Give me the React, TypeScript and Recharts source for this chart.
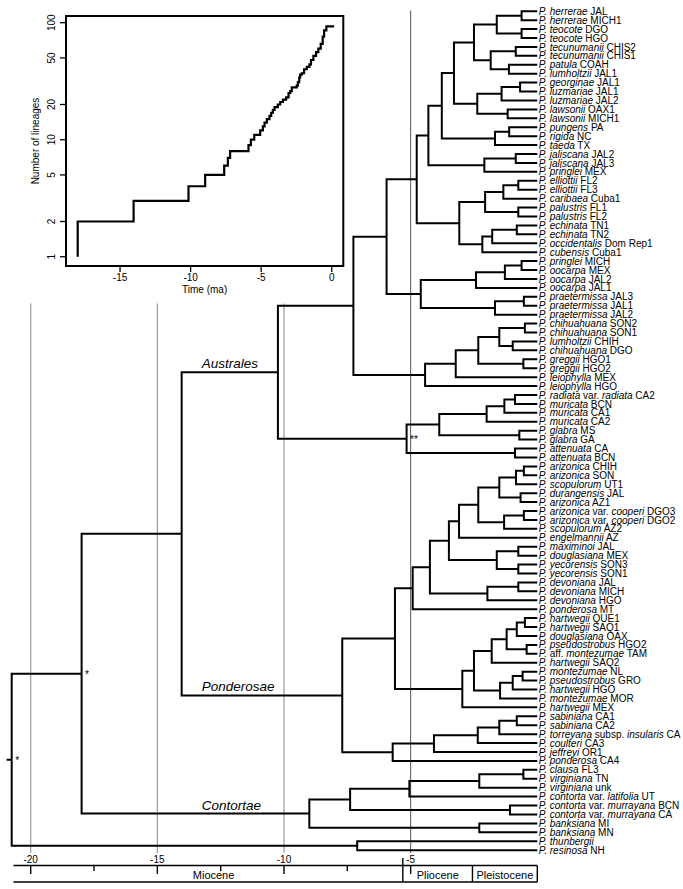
import React from 'react';
import { ComposedChart, Line, Scatter, XAxis, YAxis, ReferenceLine, ReferenceArea, Label } from 'recharts';

const FONT = '"Liberation Sans", Arial, Helvetica, sans-serif';

// ---------------- DATA ----------------
// Tip labels, top to bottom. Text between underscores is italic.
const tipLabels: string[] = [
  '_P. herrerae_ JAL', '_P. herrerae_ MICH1', '_P. teocote_ DGO', '_P. teocote_ HGO',
  '_P. tecunumanii_ CHIS2', '_P. tecunumanii_ CHIS1', '_P. patula_ COAH', '_P. lumholtzii_ JAL1',
  '_P. georginae_ JAL1', '_P. luzmariae_ JAL1', '_P. luzmariae_ JAL2', '_P. lawsonii_ OAX1',
  '_P. lawsonii_ MICH1', '_P. pungens_ PA', '_P. rigida_ NC', '_P. taeda_ TX',
  '_P. jaliscana_ JAL2', '_P. jaliscana_ JAL3', '_P. pringlei_ MEX', '_P. elliottii_ FL2',
  '_P. elliottii_ FL3', '_P. caribaea_ Cuba1', '_P. palustris_ FL1', '_P. palustris_ FL2',
  '_P. echinata_ TN1', '_P. echinata_ TN2', '_P. occidentalis_ Dom Rep1', '_P. cubensis_ Cuba1',
  '_P. pringlei_ MICH', '_P. oocarpa_ MEX', '_P. oocarpa_ JAL2', '_P. oocarpa_ JAL1',
  '_P. praetermissa_ JAL3', '_P. praetermissa_ JAL1', '_P. praetermissa_ JAL2', '_P. chihuahuana_ SON2',
  '_P. chihuahuana_ SON1', '_P. lumholtzii_ CHIH', '_P. chihuahuana_ DGO', '_P. greggii_ HGO1',
  '_P. greggii_ HGO2', '_P. leiophylla_ MEX', '_P. leiophylla_ HGO', '_P. radiata_ var. _radiata_ CA2',
  '_P. muricata_ BCN', '_P. muricata_ CA1', '_P. muricata_ CA2', '_P. glabra_ MS',
  '_P. glabra_ GA', '_P. attenuata_ CA', '_P. attenuata_ BCN', '_P. arizonica_ CHIH',
  '_P. arizonica_ SON', '_P. scopulorum_ UT1', '_P. durangensis_ JAL', '_P. arizonica_ AZ1',
  '_P. arizonica_ var. _cooperi_ DGO3', '_P. arizonica_ var. _cooperi_ DGO2', '_P. scopulorum_ AZ2', '_P. engelmannii_ AZ',
  '_P. maximinoi_ JAL', '_P. douglasiana_ MEX', '_P. yecorensis_ SON3', '_P. yecorensis_ SON1',
  '_P. devoniana_ JAL', '_P. devoniana_ MICH', '_P. devoniana_ HGO', '_P. ponderosa_ MT',
  '_P. hartwegii_ QUE1', '_P. hartwegii_ SAQ1', '_P. douglasiana_ OAX', '_P. pseudostrobus_ HGO2',
  '_P._ aff. _montezumae_ TAM', '_P. hartwegii_ SAQ2', '_P. montezumae_ NL', '_P. pseudostrobus_ GRO',
  '_P. hartwegii_ HGO', '_P. montezumae_ MOR', '_P. hartwegii_ MEX', '_P. sabiniana_ CA1',
  '_P. sabiniana_ CA2', '_P. torreyana_ subsp. _insularis_ CA', '_P. coulteri_ CA3', '_P. jeffreyi_ OR1',
  '_P. ponderosa_ CA4', '_P. clausa_ FL3', '_P. virginiana_ TN', '_P. virginiana_ unk',
  '_P. contorta_ var. _latifolia_ UT', '_P. contorta_ var. _murrayana_ BCN', '_P. contorta_ var. _murrayana_ CA', '_P. banksiana_ MI',
  '_P. banksiana_ MN', '_P. thunbergii_', '_P. resinosa_ NH',
];

// Internal nodes: [id, child A, child B, age in Ma]; numeric children are tip numbers (1-based)
const treeNodes: [string, number | string, number | string, number][] = [
  ['n1', 1, 2, -0.62], ['n2', 3, 4, -0.62], ['n3', 'n1', 'n2', -1.6],
  ['n4', 5, 6, -0.85], ['n5', 7, 8, -1.12], ['n6', 'n4', 'n5', -1.84], ['n7', 'n3', 'n6', -2.5],
  ['n8', 9, 10, -0.68], ['n9', 'n8', 11, -1.41], ['n10', 12, 13, -1.17], ['n11', 'n9', 'n10', -2.37],
  ['n12', 'n7', 'n11', -3.29], ['n13', 14, 15, -1.11], ['n14', 'n13', 16, -1.67], ['n15', 'n12', 'n14', -3.77],
  ['n16', 17, 18, -0.85], ['n17', 'n16', 19, -2.09], ['n18', 'n15', 'n17', -4.3],
  ['n19', 20, 21, -0.75], ['n20', 'n19', 22, -1.34], ['n21', 23, 24, -0.75], ['n22', 'n20', 'n21', -2.06],
  ['n23', 25, 26, -0.81], ['n24', 'n23', 27, -1.78], ['n25', 'n24', 28, -2.17], ['n26', 'n22', 'n25', -3.08],
  ['n27', 'n18', 'n26', -4.76],
  ['n28', 29, 30, -0.62], ['n29', 'n28', 31, -1.28], ['n30', 'n29', 32, -2.42],
  ['n31', 33, 34, -0.53], ['n32', 'n31', 35, -1.67], ['n33', 'n30', 'n32', -4.6], ['n34', 'n27', 'n33', -5.95],
  ['n35', 36, 37, -0.49], ['n36', 38, 39, -0.97], ['n37', 'n35', 'n36', -1.5], ['n38', 40, 41, -0.55],
  ['n39', 'n37', 'n38', -2.33], ['n40', 'n39', 42, -3.22], ['n41', 'n40', 43, -4.43], ['n42', 'n34', 'n41', -7.26],
  ['n43', 44, 45, -0.88], ['n44', 'n43', 46, -1.3], ['n45', 'n44', 47, -2.0], ['n46', 48, 49, -0.71],
  ['n47', 'n45', 'n46', -3.87], ['n48', 50, 51, -0.88], ['n49', 'n47', 'n48', -5.16], ['n50', 'n42', 'n49', -10.24],
  ['n51', 52, 53, -0.53], ['n52', 'n51', 54, -0.84], ['n53', 55, 56, -0.66], ['n54', 'n52', 'n53', -1.5],
  ['n55', 57, 58, -0.53], ['n56', 'n55', 59, -1.31], ['n57', 'n54', 'n56', -2.33], ['n58', 'n57', 60, -3.09],
  ['n59', 61, 62, -0.75], ['n60', 63, 64, -0.75], ['n61', 'n59', 'n60', -1.6], ['n62', 'n58', 'n61', -3.49],
  ['n63', 65, 66, -0.75], ['n64', 'n63', 67, -1.97], ['n65', 'n62', 'n64', -4.24], ['n66', 'n65', 68, -4.92],
  ['n67', 69, 70, -0.49], ['n68', 'n67', 71, -0.81], ['n69', 72, 73, -0.42], ['n70', 'n68', 'n69', -1.21],
  ['n71', 'n70', 74, -1.8], ['n72', 75, 76, -0.58], ['n73', 'n72', 77, -0.97], ['n74', 'n73', 78, -1.47],
  ['n75', 'n71', 'n74', -2.5], ['n76', 'n75', 79, -2.96], ['n77', 'n66', 'n76', -5.62],
  ['n78', 80, 81, -0.81], ['n79', 'n78', 82, -1.5], ['n80', 'n79', 83, -2.35], ['n81', 'n80', 84, -4.08],
  ['n82', 'n81', 85, -5.71], ['n83', 'n77', 'n82', -7.7], ['n84', 'n50', 'n83', -14.04],
  ['n85', 86, 87, -0.55], ['n86', 'n85', 88, -2.29], ['n87', 'n86', 89, -5.05], ['n88', 90, 91, -1.08],
  ['n89', 'n87', 'n88', -7.39], ['n90', 92, 93, -2.29], ['n91', 'n89', 'n90', -9.0], ['n92', 'n84', 'n91', -17.99],
  ['n93', 94, 95, -7.11], ['n94', 'n92', 'n93', -20.75],
];
const rootStubAge = -20.95;

const starNodes = ['n94', 'n92', 'n49'];
const starTexts = ['*', '*', '**'];

const cladeNames = ['Australes', 'Ponderosae', 'Contortae'];
const cladeLabelRows = [40.38, 76.61, 89.94];
const cladeLabelAge = -13.25;

const gridAges = [-20, -15, -10, -5];
const gridTopRows = [33.75, 33.75, 33.75, 0.94];
const gridBottomRow = 95.32;

const axisLabelAges = [-20, -15, -10, -5];
const scaleMajorTicks = [-20, -15, -10, -5];
const scaleMinorTicks = [-17.5, -12.5, -7.5];

const epochNames = ['Miocene', 'Pliocene', 'Pleistocene'];
const epochStarts = [-20.68, -5.31, -2.56];
const epochEnds = [-5.31, -2.56, 0];
const epochLabelAges = [-12.78, -3.93, -1.28];

// Lineages-through-time (inset): step change points
const lttTime = [-18.0, -18.0, -14.04, -10.15, -8.97, -7.62, -7.36, -7.2, -5.9, -5.73, -5.49, -5.07, -4.88, -4.76, -4.6,
  -4.41, -4.29, -4.17, -4.05, -3.82, -3.65, -3.46, -3.23, -3.06, -2.94, -2.83, -2.48, -2.4, -2.3, -2.24, -2.12,
  -1.96, -1.77, -1.58, -1.47, -1.3, -1.11, -0.95, -0.78, -0.64, -0.54, -0.38, 0.17];
const lttCount = [1, 2, 3, 4, 5, 6, 7, 8, 9, 10, 11, 12, 13, 14, 15,
  16, 17, 18, 19, 20, 21, 22, 23, 25, 26, 28, 29, 31, 34, 36, 37,
  40, 42, 44, 48, 52, 56, 60, 66, 76, 86, 93, 93];
const lttTicksX = [-15, -10, -5, 0];
const lttTicksY = [1, 2, 5, 10, 20, 50, 100];

// ---------------- LAYOUT (rows in tip units) ----------------
const ROW_AXIS_LABEL = 96.05;
const ROW_BAR_TOP = 96.72;
const ROW_BAR_BOTTOM = 98.57;
const ROW_DIVIDER_TOP = 95.88;
const ROW_MAJOR_TICK = 97.67;
const ROW_MINOR_TICK = 97.34;
const ROW_EPOCH_LABEL = 97.78;

// ---------------- DERIVED ----------------
const pos: Record<string, { t: number; y: number }> = {};
tipLabels.forEach((_, i) => { pos[String(i + 1)] = { t: 0, y: i + 1 }; });
treeNodes.forEach(([id, a, b, age]) => {
  const pa = pos[String(a)], pb = pos[String(b)];
  pos[id] = { t: age, y: (pa.y + pb.y) / 2 };
});

const treePath: { x: number; y: number | null }[] = [];
treeNodes.forEach(([id, a, b, age]) => {
  const pa = pos[String(a)], pb = pos[String(b)];
  treePath.push({ x: pa.t, y: pa.y }, { x: age, y: pa.y }, { x: age, y: pb.y }, { x: pb.t, y: pb.y }, { x: pb.t, y: null });
});
const root = pos['n94'];
treePath.push({ x: rootStubAge, y: root.y }, { x: root.t, y: root.y });

const tipData = tipLabels.map((label, i) => ({ x: 0, y: i + 1, label }));
const starData = starNodes.map((id, i) => ({ x: pos[id].t, y: pos[id].y, label: starTexts[i] }));
const cladeData = cladeNames.map((label, i) => ({ x: cladeLabelAge, y: cladeLabelRows[i], label }));
const axisLabelData = axisLabelAges.map((a) => ({ x: a, y: ROW_AXIS_LABEL, label: String(a) }));
const epochLabelData = epochNames.map((label, i) => ({ x: epochLabelAges[i], y: ROW_EPOCH_LABEL, label }));
const lttData = lttTime.map((t, i) => ({ t, n: lttCount[i] }));

function rich(label: string) {
  return label.split('_').map((s, i) =>
    s ? <tspan key={i} fontStyle={i % 2 ? 'italic' : 'normal'}>{s}</tspan> : null);
}

const TipLabel = (p: any) => (
  <text x={p.cx + 1.5} y={p.cy} dy="0.36em" fontSize={10} fontFamily={FONT} fill="#000" style={{ whiteSpace: 'pre' }}>
    {rich(p.payload.label)}
  </text>
);
const StarLabel = (p: any) => (
  <text x={p.cx + 3.5} y={p.cy} dy={4.5} fontSize={10} fontFamily={FONT} fill="#000">{p.payload.label}</text>
);
const CladeLabel = (p: any) => (
  <text x={p.cx} y={p.cy} dy="0.36em" fontSize={13.5} fontStyle="italic" fontFamily={FONT} fill="#000">{p.payload.label}</text>
);
const CenterLabel = (size: number) => (p: any) => (
  <text x={p.cx} y={p.cy} dy="0.36em" fontSize={size} textAnchor="middle" fontFamily={FONT} fill="#000">{p.payload.label}</text>
);
const AxisText = CenterLabel(10);
const EpochText = CenterLabel(11);

const LogTick = (p: any) => {
  const x = p.x - 2.5;
  return (
    <text x={x} y={p.y} transform={`rotate(-90 ${x} ${p.y})`} textAnchor="middle" fontSize={10} fontFamily={FONT} fill="#000">
      {p.payload.value}
    </text>
  );
};

const BAR = { stroke: '#000', strokeWidth: 1.4 };

export default function App() {
  return (
    <div style={{ position: 'absolute', left: 0, top: 0, width: 683, height: 889, background: '#fff' }}>
      <div style={{ position: 'absolute', left: 0, top: 0 }}>
        <ComposedChart width={683} height={889} margin={{ top: 0, right: 0, bottom: 0, left: 0 }}>
          <XAxis type="number" dataKey="x" domain={[-21.212, 5.752]} allowDataOverflow hide />
          <YAxis type="number" dataKey="y" domain={[-0.255, 99.353]} allowDataOverflow reversed hide />
          {gridAges.map((a, i) => (
            <ReferenceLine key={'g' + i} segment={[{ x: a, y: gridTopRows[i] }, { x: a, y: gridBottomRow }]}
              stroke={a === -5 ? '#444' : '#999'} strokeWidth={a === -5 ? 0.9 : 1.2} />
          ))}
          {/* time-scale bar */}
          <ReferenceLine segment={[{ x: epochStarts[0], y: ROW_BAR_TOP }, { x: epochEnds[2], y: ROW_BAR_TOP }]} {...BAR} />
          <ReferenceLine segment={[{ x: epochStarts[0], y: ROW_BAR_BOTTOM }, { x: epochEnds[2], y: ROW_BAR_BOTTOM }]} {...BAR} />
          <ReferenceLine segment={[{ x: epochEnds[0], y: ROW_DIVIDER_TOP }, { x: epochEnds[0], y: ROW_BAR_BOTTOM }]} {...BAR} />
          <ReferenceLine segment={[{ x: epochEnds[1], y: ROW_BAR_TOP }, { x: epochEnds[1], y: ROW_BAR_BOTTOM }]} {...BAR} />
          <ReferenceLine segment={[{ x: epochEnds[2], y: ROW_BAR_TOP }, { x: epochEnds[2], y: ROW_BAR_BOTTOM }]} {...BAR} />
          {scaleMajorTicks.map((a) => (
            <ReferenceLine key={'mt' + a} segment={[{ x: a, y: ROW_BAR_TOP }, { x: a, y: ROW_MAJOR_TICK }]} {...BAR} />
          ))}
          {scaleMinorTicks.map((a) => (
            <ReferenceLine key={'nt' + a} segment={[{ x: a, y: ROW_BAR_TOP }, { x: a, y: ROW_MINOR_TICK }]} {...BAR} />
          ))}
          <Line data={treePath} dataKey="y" type="linear" stroke="#000" strokeWidth={2} dot={false}
            connectNulls={false} isAnimationActive={false} strokeLinejoin="miter" />
          <Scatter data={tipData} shape={TipLabel} isAnimationActive={false} />
          <Scatter data={starData} shape={StarLabel} isAnimationActive={false} />
          <Scatter data={cladeData} shape={CladeLabel} isAnimationActive={false} />
          <Scatter data={axisLabelData} shape={AxisText} isAnimationActive={false} />
          <Scatter data={epochLabelData} shape={EpochText} isAnimationActive={false} />
        </ComposedChart>
      </div>
      <div style={{ position: 'absolute', left: 0, top: 0 }}>
        <ComposedChart width={360} height={300} margin={{ top: 16, right: 16.7, bottom: 0, left: 0 }}>
          <XAxis type="number" dataKey="t" domain={[-18.83, 0.82]} allowDataOverflow ticks={lttTicksX}
            height={34} tickSize={6} tickMargin={2} axisLine={false}
            tickLine={{ stroke: '#000', strokeWidth: 1.3 }}
            tick={{ fontSize: 10, fill: '#000', fontFamily: FONT }}>
            <Label content={(p: any) => (
              <text x={p.viewBox.x + p.viewBox.width / 2} y={p.viewBox.y + 27} textAnchor="middle"
                fontSize={10} fontFamily={FONT} fill="#000">Time (ma)</text>
            )} />
          </XAxis>
          <YAxis type="number" dataKey="n" scale="log" domain={[0.833, 114.1]} allowDataOverflow ticks={lttTicksY}
            width={66} tickSize={6} tickMargin={2} axisLine={false}
            tickLine={{ stroke: '#000', strokeWidth: 1.3 }} tick={<LogTick />}>
            <Label content={(p: any) => {
              const cx = 39.3, cy = p.viewBox.y + p.viewBox.height / 2;
              return (
                <text x={cx} y={cy} transform={`rotate(-90 ${cx} ${cy})`} textAnchor="middle"
                  fontSize={10} fontFamily={FONT} fill="#000">Number of lineages</text>
              );
            }} />
          </YAxis>
          <ReferenceArea x1={-18.83} x2={0.82} y1={0.833} y2={114.1} fill="none" stroke="#000" strokeWidth={2} fillOpacity={0} />
          <Line data={lttData} dataKey="n" type="stepAfter" stroke="#000" strokeWidth={2.2} dot={false} isAnimationActive={false} />
        </ComposedChart>
      </div>
    </div>
  );
}
